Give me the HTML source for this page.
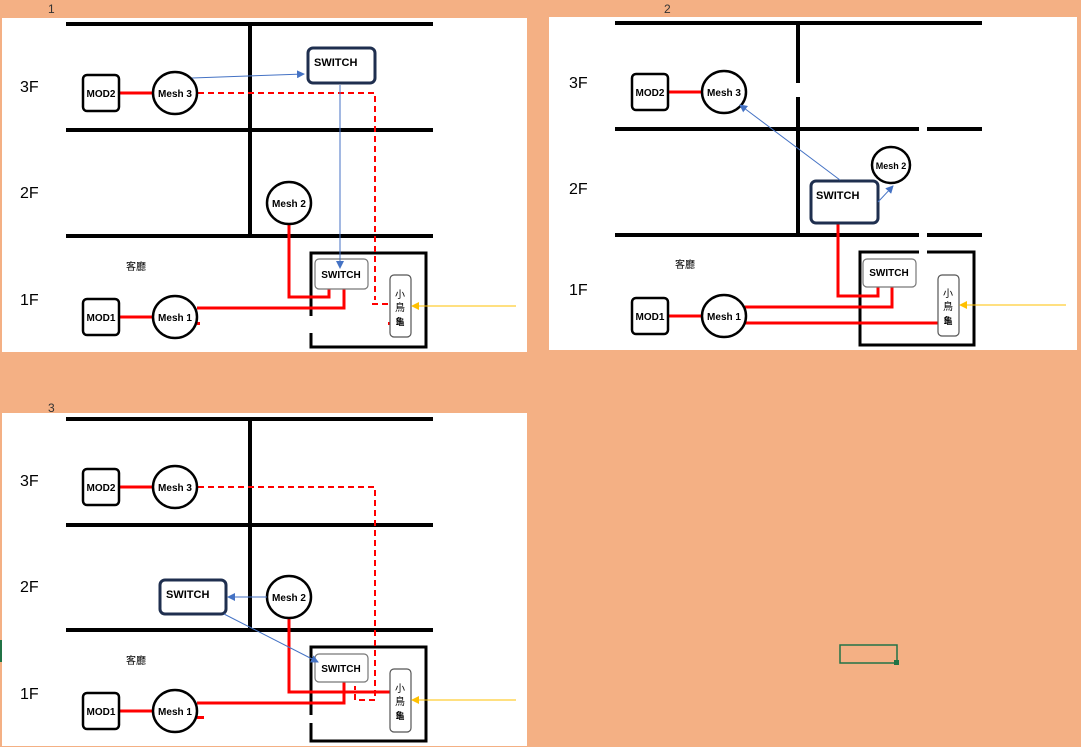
<!DOCTYPE html>
<html><head><meta charset="utf-8"><style>
html,body{margin:0;padding:0;background:#F4B084;}
svg{display:block;}
text{font-family:"Liberation Sans","Noto Sans CJK TC",sans-serif;}
</style></head><body>
<svg width="1081" height="747" viewBox="0 0 1081 747" xmlns="http://www.w3.org/2000/svg">
<defs>
<marker id="ab" markerWidth="8" markerHeight="8" refX="7" refY="4" orient="auto" markerUnits="userSpaceOnUse"><path d="M0,0 L8,4 L0,8 z" fill="#4472C4"/></marker>
<marker id="ay" markerWidth="8" markerHeight="8" refX="7" refY="4" orient="auto" markerUnits="userSpaceOnUse"><path d="M0,0 L8,4 L0,8 z" fill="#FFC000"/></marker>
</defs>
<rect width="1081" height="747" fill="#F4B084"/>
<text x="48" y="13" font-family="Liberation Serif" font-size="12" fill="#333">1</text>
<text x="664" y="13" font-family="Liberation Serif" font-size="12" fill="#333">2</text>
<text x="48" y="412" font-family="Liberation Serif" font-size="12" fill="#333">3</text>
<rect x="840" y="645" width="57" height="18" fill="none" stroke="#217346" stroke-width="1.5"/>
<rect x="894" y="660" width="5" height="5" fill="#217346"/>
<rect x="0" y="640" width="2" height="22" fill="#217346"/>

<!-- PANEL 1 -->
<g>
<rect x="2" y="18" width="525" height="334" fill="#fff"/>
<g stroke="#000" stroke-width="4">
<line x1="66" y1="24" x2="433" y2="24"/><line x1="66" y1="130" x2="433" y2="130"/><line x1="66" y1="236" x2="433" y2="236"/>
<line x1="250" y1="24" x2="250" y2="236"/>
</g>
<text x="20" y="92" font-size="16">3F</text><text x="20" y="198" font-size="16">2F</text><text x="20" y="305" font-size="16">1F</text>
<text x="126" y="270" font-size="10">客廳</text>
<path d="M311,316 V253 H426 V347 H311 V333" fill="none" stroke="#000" stroke-width="3"/>
<g stroke="#FF0000" stroke-width="3" fill="none">
<line x1="119" y1="93" x2="153" y2="93"/><line x1="119" y1="317" x2="153" y2="317"/>
<polyline points="289,225 289,297 329,297 329,289"/>
<polyline points="197,308 344,308 344,289"/>
</g>
<g stroke="#FF0000" stroke-width="2" fill="none" stroke-dasharray="6,4">
<polyline points="198,93 375,93 375,300"/><line x1="372" y1="304" x2="390" y2="304"/>
</g>
<rect x="197" y="322" width="3" height="3" fill="red"/><rect x="388" y="322" width="3" height="3" fill="red"/>
<rect x="83" y="75" width="36" height="36" rx="4" fill="#fff" stroke="#000" stroke-width="2.5"/>
<text x="101" y="97" font-size="10" font-weight="bold" text-anchor="middle">MOD2</text>
<rect x="83" y="299" width="36" height="36" rx="4" fill="#fff" stroke="#000" stroke-width="2.5"/>
<text x="101" y="321" font-size="10" font-weight="bold" text-anchor="middle">MOD1</text>
<ellipse cx="175" cy="93" rx="22" ry="21" fill="#fff" stroke="#000" stroke-width="2.5"/>
<text x="175" y="97" font-size="10" font-weight="bold" text-anchor="middle">Mesh 3</text>
<ellipse cx="175" cy="317" rx="22" ry="21" fill="#fff" stroke="#000" stroke-width="2.5"/>
<text x="175" y="321" font-size="10" font-weight="bold" text-anchor="middle">Mesh 1</text>
<ellipse cx="289" cy="203" rx="22" ry="21" fill="#fff" stroke="#000" stroke-width="2.5"/>
<text x="289" y="207" font-size="10" font-weight="bold" text-anchor="middle">Mesh 2</text>
<rect x="308" y="48" width="67" height="35" rx="5" fill="#fff" stroke="#1F2F4F" stroke-width="3"/>
<text x="314" y="66" font-size="11" font-weight="bold">SWITCH</text>
<rect x="315" y="259" width="53" height="30" rx="4" fill="#fff" stroke="#777" stroke-width="1.2"/>
<text x="341" y="278" font-size="10" font-weight="bold" text-anchor="middle">SWITCH</text>
<rect x="390" y="275" width="21" height="62" rx="4" fill="#fff" stroke="#555" stroke-width="1.2"/>
<text x="400" y="298" font-size="10" text-anchor="middle">小</text><text x="400" y="311" font-size="10" text-anchor="middle">鳥</text><text x="400" y="325" font-size="9" font-weight="bold" text-anchor="middle">龜</text>
<line x1="192" y1="78" x2="304" y2="74" stroke="#4472C4" stroke-width="1" marker-end="url(#ab)"/>
<line x1="340" y1="85" x2="340" y2="268" stroke="#4472C4" stroke-width="1" marker-end="url(#ab)"/>
<line x1="516" y1="306" x2="412" y2="306" stroke="#FFC000" stroke-width="1" marker-end="url(#ay)"/>
</g>

<!-- PANEL 2 -->
<g>
<rect x="549" y="17" width="528" height="333" fill="#fff"/>
<g stroke="#000" stroke-width="4">
<line x1="615" y1="23" x2="982" y2="23"/>
<line x1="615" y1="129" x2="919" y2="129"/><line x1="927" y1="129" x2="982" y2="129"/>
<line x1="615" y1="235" x2="919" y2="235"/><line x1="927" y1="235" x2="982" y2="235"/>
<line x1="798" y1="23" x2="798" y2="83"/><line x1="798" y1="97" x2="798" y2="235"/>
</g>
<text x="569" y="88" font-size="16">3F</text><text x="569" y="194" font-size="16">2F</text><text x="569" y="295" font-size="16">1F</text>
<text x="675" y="268" font-size="10">客廳</text>
<path d="M919,252 H860 V345 H974 V252 H927" fill="none" stroke="#000" stroke-width="3"/>
<g stroke="#FF0000" stroke-width="3" fill="none">
<line x1="668" y1="92" x2="703" y2="92"/><line x1="668" y1="316" x2="703" y2="316"/>
<polyline points="838,223 838,296 878,296 878,287"/>
<polyline points="745,307 892,307 892,287"/>
<line x1="745" y1="323" x2="938" y2="323"/>
</g>
<rect x="632" y="74" width="36" height="36" rx="4" fill="#fff" stroke="#000" stroke-width="2.5"/>
<text x="650" y="96" font-size="10" font-weight="bold" text-anchor="middle">MOD2</text>
<rect x="632" y="298" width="36" height="36" rx="4" fill="#fff" stroke="#000" stroke-width="2.5"/>
<text x="650" y="320" font-size="10" font-weight="bold" text-anchor="middle">MOD1</text>
<ellipse cx="724" cy="92" rx="22" ry="21" fill="#fff" stroke="#000" stroke-width="2.5"/>
<text x="724" y="96" font-size="10" font-weight="bold" text-anchor="middle">Mesh 3</text>
<ellipse cx="724" cy="316" rx="22" ry="21" fill="#fff" stroke="#000" stroke-width="2.5"/>
<text x="724" y="320" font-size="10" font-weight="bold" text-anchor="middle">Mesh 1</text>
<ellipse cx="891" cy="165" rx="19" ry="18" fill="#fff" stroke="#000" stroke-width="2.5"/>
<text x="891" y="169" font-size="9" font-weight="bold" text-anchor="middle">Mesh 2</text>
<rect x="811" y="181" width="67" height="42" rx="5" fill="#fff" stroke="#1F2F4F" stroke-width="3"/>
<text x="816" y="199" font-size="11" font-weight="bold">SWITCH</text>
<rect x="863" y="259" width="53" height="28" rx="4" fill="#fff" stroke="#777" stroke-width="1.2"/>
<text x="889" y="276" font-size="10" font-weight="bold" text-anchor="middle">SWITCH</text>
<rect x="938" y="275" width="21" height="61" rx="4" fill="#fff" stroke="#555" stroke-width="1.2"/>
<text x="948" y="297" font-size="10" text-anchor="middle">小</text><text x="948" y="310" font-size="10" text-anchor="middle">鳥</text><text x="948" y="324" font-size="9" font-weight="bold" text-anchor="middle">龜</text>
<line x1="840" y1="180" x2="740" y2="105" stroke="#4472C4" stroke-width="1" marker-end="url(#ab)"/>
<line x1="878" y1="202" x2="893" y2="186" stroke="#4472C4" stroke-width="1" marker-end="url(#ab)"/>
<line x1="1066" y1="305" x2="960" y2="305" stroke="#FFC000" stroke-width="1" marker-end="url(#ay)"/>
</g>

<!-- PANEL 3 -->
<g>
<rect x="2" y="413" width="525" height="333" fill="#fff"/>
<g stroke="#000" stroke-width="4">
<line x1="66" y1="419" x2="433" y2="419"/><line x1="66" y1="525" x2="433" y2="525"/><line x1="66" y1="630" x2="433" y2="630"/>
<line x1="250" y1="419" x2="250" y2="630"/>
</g>
<text x="20" y="486" font-size="16">3F</text><text x="20" y="592" font-size="16">2F</text><text x="20" y="699" font-size="16">1F</text>
<text x="126" y="664" font-size="10">客廳</text>
<path d="M311,715 V647 H426 V741 H311 V723" fill="none" stroke="#000" stroke-width="3"/>
<g stroke="#FF0000" stroke-width="3" fill="none">
<line x1="119" y1="487" x2="153" y2="487"/><line x1="119" y1="711" x2="153" y2="711"/>
<polyline points="289,619 289,692 390,692"/>
<polyline points="197,703 344,703 344,682"/>
</g>
<g stroke="#FF0000" stroke-width="2" fill="none" stroke-dasharray="6,4">
<polyline points="198,487 375,487 375,700 355,700 355,686"/>
</g>
<rect x="197" y="716" width="7" height="3" fill="red"/>
<rect x="83" y="469" width="36" height="36" rx="4" fill="#fff" stroke="#000" stroke-width="2.5"/>
<text x="101" y="491" font-size="10" font-weight="bold" text-anchor="middle">MOD2</text>
<rect x="83" y="693" width="36" height="36" rx="4" fill="#fff" stroke="#000" stroke-width="2.5"/>
<text x="101" y="715" font-size="10" font-weight="bold" text-anchor="middle">MOD1</text>
<ellipse cx="175" cy="487" rx="22" ry="21" fill="#fff" stroke="#000" stroke-width="2.5"/>
<text x="175" y="491" font-size="10" font-weight="bold" text-anchor="middle">Mesh 3</text>
<ellipse cx="175" cy="711" rx="22" ry="21" fill="#fff" stroke="#000" stroke-width="2.5"/>
<text x="175" y="715" font-size="10" font-weight="bold" text-anchor="middle">Mesh 1</text>
<ellipse cx="289" cy="597" rx="22" ry="21" fill="#fff" stroke="#000" stroke-width="2.5"/>
<text x="289" y="601" font-size="10" font-weight="bold" text-anchor="middle">Mesh 2</text>
<rect x="160" y="580" width="66" height="34" rx="5" fill="#fff" stroke="#1F2F4F" stroke-width="3"/>
<text x="166" y="598" font-size="11" font-weight="bold">SWITCH</text>
<rect x="315" y="654" width="53" height="28" rx="4" fill="#fff" stroke="#777" stroke-width="1.2"/>
<text x="341" y="672" font-size="10" font-weight="bold" text-anchor="middle">SWITCH</text>
<rect x="390" y="669" width="21" height="63" rx="4" fill="#fff" stroke="#555" stroke-width="1.2"/>
<text x="400" y="692" font-size="10" text-anchor="middle">小</text><text x="400" y="705" font-size="10" text-anchor="middle">鳥</text><text x="400" y="719" font-size="9" font-weight="bold" text-anchor="middle">龜</text>
<line x1="267" y1="597" x2="228" y2="597" stroke="#4472C4" stroke-width="1" marker-end="url(#ab)"/>
<line x1="224" y1="614" x2="318" y2="662" stroke="#4472C4" stroke-width="1" marker-end="url(#ab)"/>
<line x1="516" y1="700" x2="412" y2="700" stroke="#FFC000" stroke-width="1" marker-end="url(#ay)"/>
</g>
</svg>
</body></html>
